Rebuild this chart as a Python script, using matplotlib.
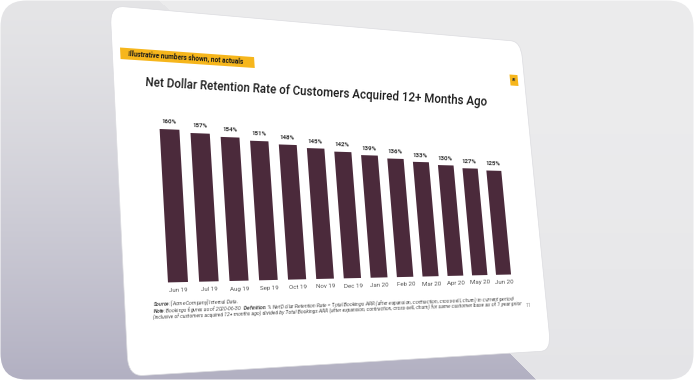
import numpy as np
import matplotlib
matplotlib.use("Agg")
import matplotlib.pyplot as plt
from matplotlib import transforms as mtransforms
from matplotlib.path import Path
from matplotlib.patches import FancyBboxPatch, Rectangle
from matplotlib import font_manager as fm

# ---------------- data ----------------
months = ["Jun 19", "Jul 19", "Aug 19", "Sep 19", "Oct 19", "Nov 19", "Dec 19",
          "Jan 20", "Feb 20", "Mar 20", "Apr 20", "May 20", "Jun 20"]
ndr = [160, 157, 154, 151, 148, 145, 142, 139, 136, 133, 130, 127, 125]
title = "Net Dollar Retention Rate of Customers Acquired 12+ Months Ago"
badge = "Illustrative numbers shown, not actuals"
foot1 = r"$\bf{Source}$: [Acme Company] Internal Data."
foot2 = (r"$\bf{Note}$: Bookings figures as of 2020-06-30.  $\bf{Definition}$: % Net Dollar Retention Rate = "
         "Total Bookings ARR (after expansion, contraction, cross-sell, churn) in current period")
foot3 = ("(inclusive of customers acquired 12+ months ago) divided by Total Bookings ARR "
         "(after expansion, contraction, cross-sell, churn) for same customer base as of 1 year prior")
page_no = "11"
logo = "FII"

# ---------------- fonts ----------------
avail = {f.name for f in fm.fontManager.ttflist}
FONT = "Liberation Sans Narrow" if "Liberation Sans Narrow" in avail else "Roboto"
plt.rcParams["font.family"] = [FONT, "DejaVu Sans"]
plt.rcParams["mathtext.fontset"] = "custom"
plt.rcParams["mathtext.bf"] = f"{FONT}:italic:bold"
plt.rcParams["mathtext.rm"] = f"{FONT}:italic"
plt.rcParams["mathtext.it"] = f"{FONT}:italic"

W, HP = 694, 380
fig = plt.figure(figsize=(W / 100, HP / 100), dpi=100)
fig.patch.set_facecolor("white")


# ---------------- perspective machinery ----------------
class Persp(mtransforms.Transform):
    input_dims = 2
    output_dims = 2
    is_separable = False
    has_inverse = False

    def __init__(self, H):
        super().__init__()
        self._H = np.asarray(H, float)

    def transform_non_affine(self, values):
        v = np.asarray(values, float).reshape(-1, 2)
        q = np.column_stack([v, np.ones(len(v))]) @ self._H.T
        return q[:, :2] / q[:, 2:3]

    def transform_path_non_affine(self, path):
        return Path(self.transform_non_affine(path.vertices), path.codes)


def homography(src, dst):
    A, b = [], []
    for (x, y), (u, v) in zip(src, dst):
        A.append([x, y, 1, 0, 0, 0, -u * x, -u * y]); b.append(u)
        A.append([0, 0, 0, x, y, 1, -v * x, -v * y]); b.append(v)
    h = np.linalg.solve(np.array(A, float), np.array(b, float))
    return np.append(h, 1.0).reshape(3, 3)


slide_img = [(110, 5.5), (520.7, 41.6), (551, 350.7), (128.3, 376.3)]  # TL, TR, BR, BL
src = [(0, HP), (W, HP), (W, 0), (0, 0)]
dst = [(x, HP - y) for x, y in slide_img]
Hm = homography(src, dst)
Hinv = np.linalg.inv(Hm)
P = Persp(Hm)


def to_flat(xi, yi):
    q = Hinv @ np.array([xi, HP - yi, 1.0])
    return q[0] / q[2], q[1] / q[2]


def ang(fx, fy):
    a = P.transform(np.array([[fx, fy], [fx + 10, fy]]))
    d = a[1] - a[0]
    return np.degrees(np.arctan2(d[1], d[0]))


renderer = fig.canvas.get_renderer()


def fit_size(s, target_px, base=10, **kw):
    t = fig.text(0, 0, s, fontsize=base, **kw)
    w = t.get_window_extent(renderer).width
    t.remove()
    return base * target_px / w


# ---------------- background ----------------
bg_ax = fig.add_axes([0, 0, 1, 1])
bg_ax.set_xlim(0, W)
bg_ax.set_ylim(HP, 0)
bg_ax.set_axis_off()
bg_ax.set_zorder(-1)

yy, xx = np.mgrid[0:HP, 0:W] + 0.5
img = np.empty((HP, W, 3))
light = np.array([236, 236, 237]) / 255
img[:] = light + (np.array([228, 228, 231]) / 255 - light) * (yy / HP)[..., None] ** 2
shadow = Path([(0, 0), (158, 0), (300, 120), (506, 350), (536, 380), (0, 380)])
inside = shadow.contains_points(np.column_stack([xx.ravel(), yy.ravel()])).reshape(HP, W)
top_c = np.array([229, 229, 231]) / 255
bot_c = np.array([178, 176, 194]) / 255
tt = (yy / HP)[..., None]
sh = top_c + (bot_c - top_c) * tt ** 1.35
img[inside] = sh[inside]

frame = FancyBboxPatch((0.5, 0.5), W - 1, HP - 1, boxstyle="round,pad=0,rounding_size=26",
                       transform=bg_ax.transData, facecolor="none", edgecolor="none")
bg_ax.add_patch(frame)
im = bg_ax.imshow(img, extent=(0, W, HP, 0), aspect="auto", interpolation="bilinear", zorder=0)
im.set_clip_path(frame)

# slide
slide = FancyBboxPatch((0, 0), W, HP, boxstyle="round,pad=0,rounding_size=20",
                       facecolor="white", edgecolor="#dcdce0", linewidth=0.5,
                       transform=P, zorder=2, clip_on=False)
bg_ax.add_patch(slide)

# badge
b_tl = to_flat(120, 47.5)
b_tr = to_flat(254, 56.5)
b_bl = to_flat(120, 59)
badge_rect = Rectangle((b_tl[0], b_bl[1]), b_tr[0] - b_tl[0], b_tl[1] - b_bl[1],
                       facecolor="#f6b61c", edgecolor="none", transform=P, zorder=3, clip_on=False)
bg_ax.add_patch(badge_rect)
bx, by = to_flat(128, 53.5)
bg_ax.text(bx, by, badge, transform=P, ha="left", va="center", rotation=ang(bx, by),
           rotation_mode="anchor", fontsize=fit_size(badge, 116, weight="semibold"),
           weight="semibold", color="#1a1a1a", zorder=4, clip_on=False)

# logo square
l_tl = to_flat(509.5, 74.5)
l_br = to_flat(518.5, 86)
bg_ax.add_patch(Rectangle((l_tl[0], l_br[1]), l_br[0] - l_tl[0], l_tl[1] - l_br[1],
                          facecolor="#f6b61c", edgecolor="none", transform=P, zorder=3, clip_on=False))
lx, ly = to_flat(514, 80.3)
bg_ax.text(lx, ly, logo, transform=P, ha="center", va="center", fontsize=2.8, weight="bold",
           color="#333333", rotation=ang(lx, ly), rotation_mode="anchor", zorder=4, clip_on=False)

# title
tx, ty = to_flat(145, 83)
t_len = np.hypot(485 - 145, 102 - 83)
bg_ax.text(tx, ty, title, transform=P, ha="left", va="center", rotation=ang(tx, ty),
           rotation_mode="anchor", fontsize=fit_size(title, t_len, weight="medium"),
           weight="medium", color="#1c1c1c", zorder=4, clip_on=False)

# footnotes
fsz = fit_size(foot2, 364, style="italic")
for s, (xi, yi) in [(foot1, (153, 304.3)), (foot2, (153, 310.8)), (foot3, (153, 317.6))]:
    fx, fy = to_flat(xi, yi)
    bg_ax.text(fx, fy, s, transform=P, ha="left", va="center", rotation=ang(fx, fy),
               rotation_mode="anchor", fontsize=fsz, style="italic", color="#4a4a4a",
               zorder=4, clip_on=False)
px, py = to_flat(528, 305)
bg_ax.text(px, py, page_no, transform=P, ha="center", va="center", rotation=ang(px, py),
           rotation_mode="anchor", fontsize=fsz, color="#8a8a8a", zorder=4, clip_on=False)

# ---------------- bar chart ----------------
bw = 0.64
n = len(ndr)
bl = to_flat(168, 283)
br = to_flat(511, 274)
tp = to_flat(160, 129)
base_y = (bl[1] + br[1]) / 2
ax = fig.add_axes([bl[0] / W, base_y / HP, (br[0] - bl[0]) / W, (tp[1] - base_y) / HP])
ax.set_xlim(-bw / 2, n - 1 + bw / 2)
ax.set_ylim(0, max(ndr))
ax.set_axis_off()
ax.set_zorder(1)

xpos = np.arange(n)
bars = ax.bar(xpos, ndr, width=bw, color="#4b2a3b", linewidth=0)
for b in bars:
    b.set_transform(ax.transData + P)
    b.set_clip_on(False)


def ax_text(x, y, s, **kw):
    fx, fy = ax.transData.transform((x, y))
    return ax.text(x, y, s, transform=ax.transData + P, rotation=ang(fx, fy),
                   rotation_mode="anchor", clip_on=False, **kw)


for x, v in zip(xpos, ndr):
    ax_text(x, v + 8, f"{v}%", ha="center", va="center", fontsize=4.4,
            weight="semibold", color="#333333")
for x, m in zip(xpos, months):
    ax_text(x, -8.5, m, ha="center", va="center", fontsize=4.4, color="#555555")

fig.savefig("out.png", dpi=100)
